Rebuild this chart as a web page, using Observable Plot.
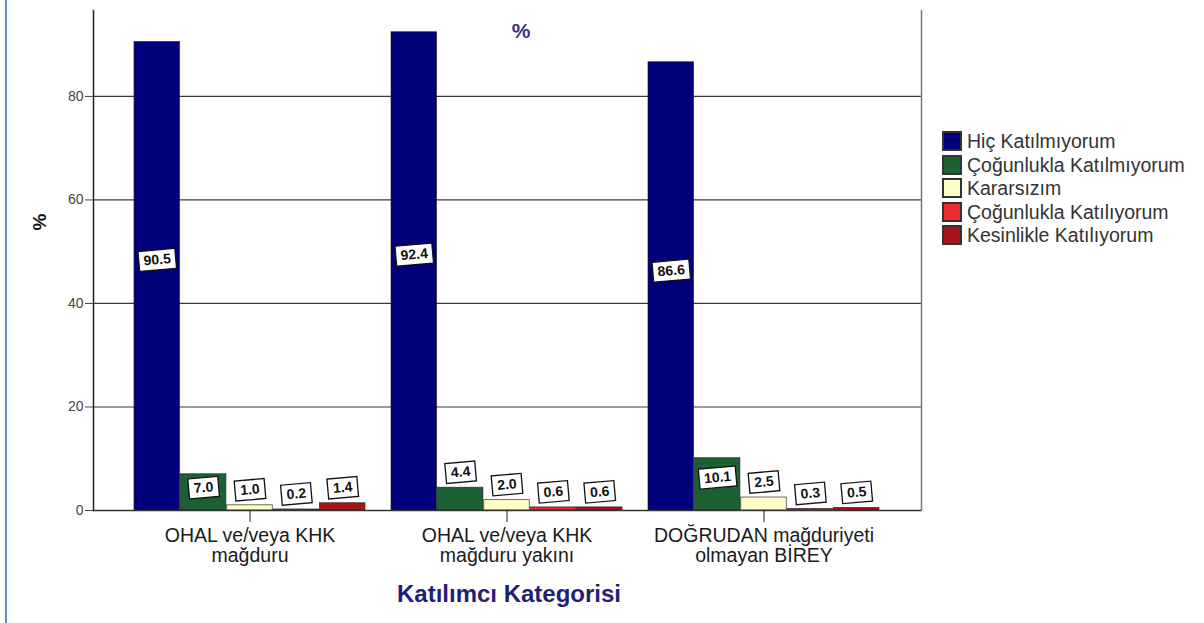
<!DOCTYPE html>
<html>
<head>
<meta charset="utf-8">
<script src="https://cdn.jsdelivr.net/npm/d3@7"></script>
<script src="https://cdn.jsdelivr.net/npm/@observablehq/plot@0.6"></script>
<style>
  body { margin: 0; background: #fff; }
  #wrap { position: relative; width: 1204px; height: 623px; overflow: hidden; font-family: "Liberation Sans", Arial, sans-serif; background: #fff; }
  #edge { position: absolute; left: 5px; top: 0; width: 2px; height: 623px; background: #5b8fd3; }
  #chart { position: absolute; left: 0; top: 0; }
  .ov { position: absolute; transform: translate(-50%, -50%); white-space: nowrap; line-height: 1; }
  #title { left: 521px; top: 30px; font-size: 21px; font-weight: bold; color: #35357f; }
  #ylab { left: 39px; top: 222px; font-size: 19px; font-weight: bold; color: #111; transform: translate(-50%, -50%) rotate(-90deg); }
  #xlab { left: 509px; top: 594px; font-size: 24px; font-weight: bold; color: #1f1f78; }
  #legend { position: absolute; left: 943px; top: 130px; }
  #legend svg { margin-right: 6px !important; }
  #legend svg rect { stroke: #333; stroke-width: 2px; }
</style>
</head>
<body>
<div id="wrap">
  <div id="edge"></div>
  <div id="chart"></div>
  <div id="title" class="ov">%</div>
  <div id="ylab" class="ov">%</div>
  <div id="xlab" class="ov">Katılımcı Kategorisi</div>
  <div id="legend"></div>
</div>
<script>
// ---- data ----
const groups = ["OHAL ve/veya KHK mağduru", "OHAL ve/veya KHK mağduru yakını", "DOĞRUDAN mağduriyeti olmayan BİREY"];
const groupTickLabels = ["OHAL ve/veya KHK\nmağduru", "OHAL ve/veya KHK\nmağduru yakını", "DOĞRUDAN mağduriyeti\nolmayan BİREY"];
const responses = ["Hiç Katılmıyorum", "Çoğunlukla Katılmıyorum", "Kararsızım", "Çoğunlukla Katılıyorum", "Kesinlikle Katılıyorum"];
const responseColors = ["#00007a", "#1b6134", "#ffffc8", "#ee2a30", "#a8141c"];
const hicKatilmiyorum = [90.5, 92.4, 86.6];
const cogunluklaKatilmiyorum = [7.0, 4.4, 10.1];
const kararsizim = [1.0, 2.0, 2.5];
const cogunluklaKatiliyorum = [0.2, 0.6, 0.3];
const kesinlikleKatiliyorum = [1.4, 0.6, 0.5];
const yTicks = [0, 20, 40, 60, 80];

const seriesValues = [hicKatilmiyorum, cogunluklaKatilmiyorum, kararsizim, cogunluklaKatiliyorum, kesinlikleKatiliyorum];
const rows = [];
seriesValues.forEach((vals, i) => vals.forEach((v, j) => rows.push({group: groups[j], response: responses[i], i, value: v})));

// ---- layout ----
const W = 935, H = 623, mL = 93, mR = 14, mT = 10, mB = 113;
const padIn = 0.1, padOut = 0.157;
const band = d3.scaleBand().domain(groups).range([mL, W - mR]).paddingInner(padIn).paddingOuter(padOut).bandwidth();
const bw = band / responses.length;

const labelY = d => d.value > 50 ? d.value * 0.535 : d.value > 6 ? d.value * 0.63 : d.value + 3;
const fmt = d => d.value.toFixed(1);
const boxSymbol = {
  draw(ctx, size) {
    const n = Math.sqrt(size / Math.PI);
    const w = n * 7 + 9, h = 20;
    ctx.moveTo(-w / 2, -h / 2);
    ctx.lineTo(w / 2, -h / 2);
    ctx.lineTo(w / 2, h / 2);
    ctx.lineTo(-w / 2, h / 2);
    ctx.closePath();
  }
};

const marks = [
  Plot.ruleY(yTicks.filter(t => t > 0), {stroke: "#3a3a3a", strokeWidth: 1.2}),
];
responses.forEach((r, i) => {
  const sub = rows.filter(d => d.i === i);
  marks.push(Plot.barY(sub, {
    x: "group", y: "value", fill: "response",
    insetLeft: i * bw, insetRight: (responses.length - 1 - i) * bw,
    stroke: "#1a1a1a", strokeWidth: 0.8, strokeOpacity: 0.8
  }));
});
responses.forEach((r, i) => {
  const sub = rows.filter(d => d.i === i);
  const dx = (i - (responses.length - 1) / 2) * bw;
  marks.push(Plot.dot(sub, {
    x: "group", y: labelY, dx, r: d => fmt(d).length, symbol: boxSymbol,
    fill: "white", stroke: "#111", strokeWidth: 1.3, rotate: -5
  }));
  marks.push(Plot.text(sub, {
    x: "group", y: labelY, dx, text: fmt, rotate: -5,
    fontSize: 14, fontWeight: "bold", fill: "#111"
  }));
});
marks.push(
  Plot.ruleY([0], {stroke: "#333", strokeWidth: 1.5}),
  Plot.frame({anchor: "left", stroke: "#222", strokeWidth: 1.5}),
  Plot.frame({anchor: "right", stroke: "#777", strokeWidth: 1.5}),
  Plot.axisY({ticks: yTicks, tickSize: 8, tickPadding: 2, fontSize: 14, color: "#444", label: null}),
  Plot.axisX({tickSize: 12, tickPadding: 5, fontSize: 19.5, lineHeight: 1.04, color: "#1a1a1a",
    tickFormat: d => groupTickLabels[groups.indexOf(d)], label: null})
);

const chart = Plot.plot({
  width: W, height: H,
  marginLeft: mL, marginRight: mR, marginTop: mT, marginBottom: mB,
  style: {fontFamily: "'Liberation Sans', Arial, sans-serif", background: "transparent"},
  x: {domain: groups, paddingInner: padIn, paddingOuter: padOut},
  y: {domain: [0, 96.6]},
  r: {type: "identity"},
  color: {domain: responses, range: responseColors},
  marks
});
document.getElementById("chart").appendChild(chart);

const legend = Plot.legend({
  legend: "swatches",
  color: {domain: responses, range: responseColors},
  swatchSize: 18,
  columns: 1
});
legend.style.fontSize = "19.5px";
legend.style.lineHeight = "22.5px";
legend.style.fontFamily = "'Liberation Sans', Arial, sans-serif";
legend.style.color = "#333";
legend.style.margin = "0";
document.getElementById("legend").appendChild(legend);
</script>
</body>
</html>
